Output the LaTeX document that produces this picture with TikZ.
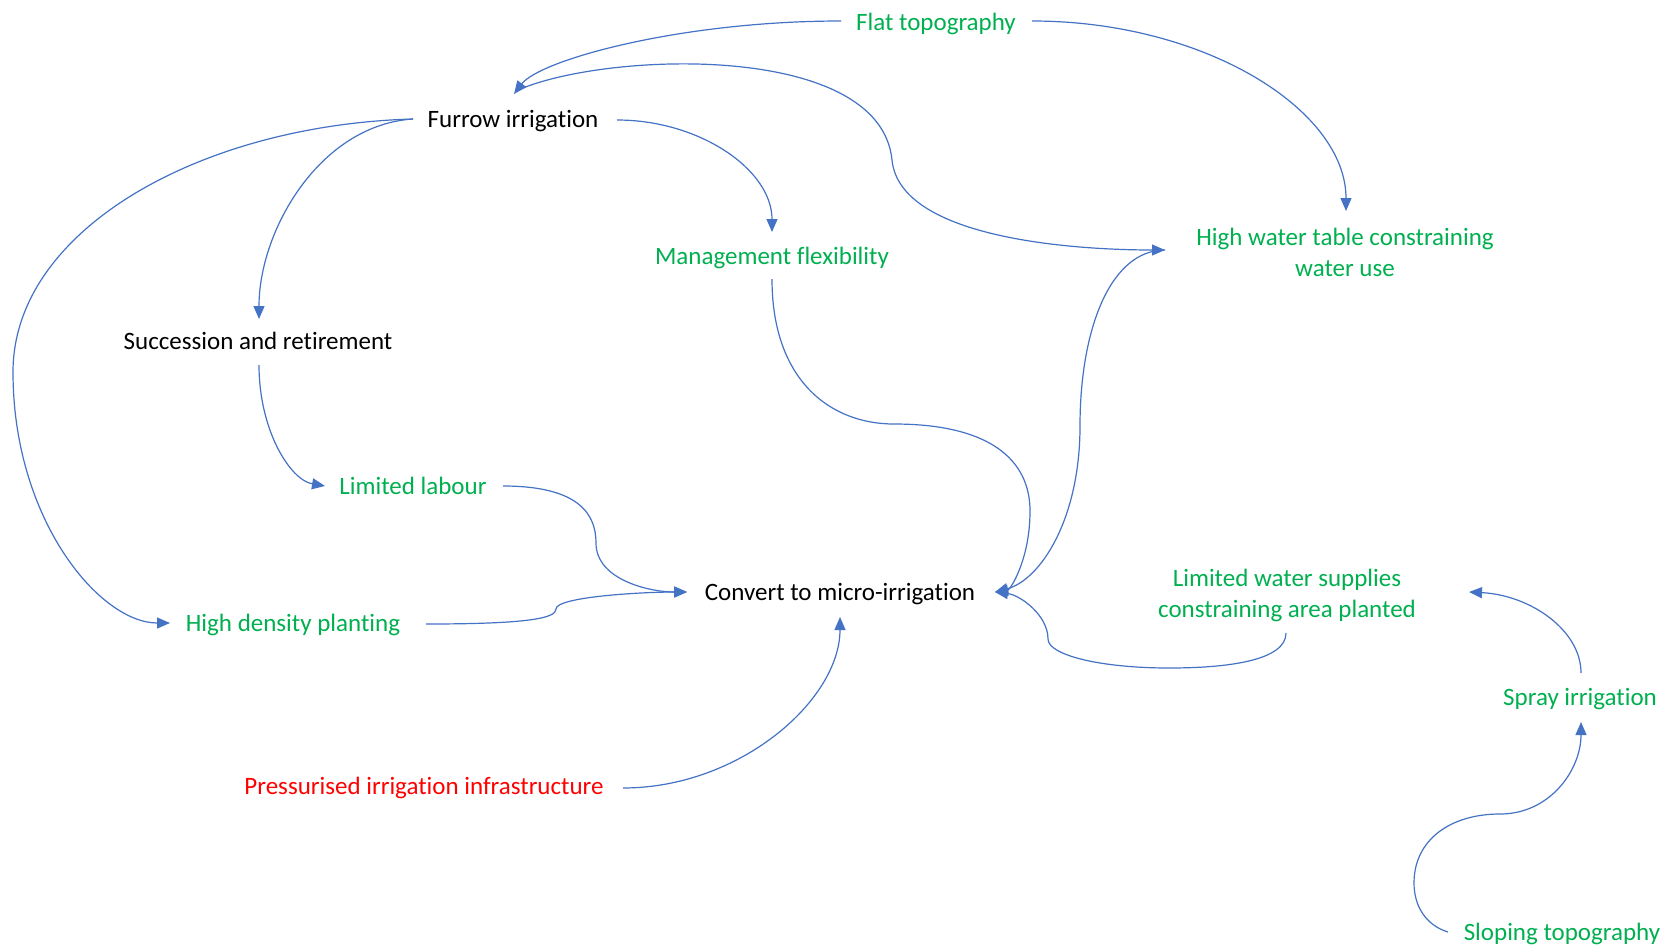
\documentclass[tikz,border=0pt]{standalone}
\usepackage{fontspec}
\setmainfont{Carlito}[Ligatures={NoCommon}]
\usetikzlibrary{arrows.meta,calc}
\definecolor{cgreen}{HTML}{00B050}
\definecolor{cred}{HTML}{FF0000}
\definecolor{cblue}{HTML}{4472C4}
\begin{document}
\begin{tikzpicture}[x=1pt,y=-1pt,
  lbl/.style={inner sep=0pt,text height=21pt,text depth=5pt,align=center,font=\fontsize{25}{31}\selectfont},
  blk/.style={lbl,text=black},
  grn/.style={lbl,text=cgreen},
  rd/.style={lbl,text=cred},
  conn/.style={draw=cblue,line width=1.2pt,-{Triangle[length=13pt,width=11pt]},fill=none}]
\useasboundingbox[fill=white] (0,0) rectangle (1669,946);
\node[grn] (flat) at (936,22) {Flat topography};
\node[blk] (furrow) at (513,119) {Furrow irrigation};
\node[grn] (mgmt) at (772,256) {Management flexibility};
\node[grn] (hwt) at (1345,268) {High water table constraining\\water use};
\node[blk] (succ) at (258,341) {Succession and retirement};
\node[grn] (labour) at (413,486) {Limited labour};
\node[blk] (convert) at (840,592) {Convert to micro-irrigation};
\node[grn] (hd) at (293,623) {High density planting};
\node[grn] (lws) at (1287,609) {Limited water supplies\\constraining area planted};
\node[grn] (spray) at (1580,697) {Spray irrigation};
\node[rd] (press) at (424,786) {Pressurised irrigation infrastructure};
\node[grn] (slope) at (1562,932) {Sloping topography};

% Flat -> Furrow
\draw[conn] ($(flat)+(-95,-1)$) .. controls (680,21) and (540,60) .. ($(furrow)+(1,-25)$);
% Flat -> HWT
\draw[conn] ($(flat)+(96,-1)$) .. controls (1205,21) and (1346,110) .. ($(hwt)+(1,-57)$);
% Furrow -> HWT
\draw[conn] ($(furrow)+(3,-28)$) .. controls (600,52) and (880,40) .. (892,160)
   .. controls (900,240) and (1080,250) .. ($(hwt)+(-180,-18)$);
% Furrow -> Management
\draw[conn] ($(furrow)+(104,1)$) .. controls (700,120) and (772,170) .. ($(mgmt)+(0,-24)$);
% Furrow -> Succession
\draw[conn] ($(furrow)+(-100,0)$) .. controls (320,125) and (259,230) .. ($(succ)+(1,-22)$);
% Furrow -> High density
\draw[conn] ($(furrow)+(-100,0)$) .. controls (200,125) and (13,230) .. (13,372)
   .. controls (13,520) and (100,623) .. ($(hd)+(-123,0)$);
% Succession -> Limited labour
\draw[conn] ($(succ)+(1,24)$) .. controls (259,430) and (290,480) .. ($(labour)+(-88,0)$);
% Limited labour -> Convert
\draw[conn] ($(labour)+(90,0)$) .. controls (580,486) and (596,515) .. (596,543)
   .. controls (596,580) and (650,592) .. ($(convert)+(-153,0)$);
% High density -> Convert
\draw[conn] ($(hd)+(133,1)$) .. controls (530,624) and (556,618) .. (556,609)
   .. controls (556,597) and (640,592) .. ($(convert)+(-153,0)$);
% Management -> Convert
\draw[conn] ($(mgmt)+(0,23)$) .. controls (772,380) and (830,424) .. (894,424)
   .. controls (990,424) and (1030,460) .. (1030,511)
   .. controls (1030,560) and (1010,590) .. ($(convert)+(155,0)$);
% HWT -> Convert
\draw[conn] ($(hwt)+(-180,-18)$) .. controls (1110,250) and (1080,330) .. (1080,426)
   .. controls (1080,520) and (1040,580) .. ($(convert)+(155,0)$);
% Limited water supplies -> Convert
\draw[conn] ($(lws)+(-1,24)$) .. controls (1286,660) and (1230,668) .. (1169,668)
   .. controls (1100,668) and (1048,655) .. (1048,639)
   .. controls (1048,615) and (1020,595) .. ($(convert)+(155,0)$);
% Pressurised -> Convert
\draw[conn] ($(press)+(199,2)$) .. controls (740,788) and (840,700) .. ($(convert)+(0,25)$);
% Spray -> Limited water supplies
\draw[conn] ($(spray)+(1,-24)$) .. controls (1581,630) and (1530,595) .. ($(lws)+(182,-17)$);
% Sloping -> Spray
\draw[conn] ($(slope)+(-114,0)$) .. controls (1425,925) and (1414,905) .. (1414,883)
   .. controls (1414,840) and (1450,814) .. (1500,814)
   .. controls (1550,814) and (1581,770) .. ($(spray)+(1,25)$);
\end{tikzpicture}
\end{document}
